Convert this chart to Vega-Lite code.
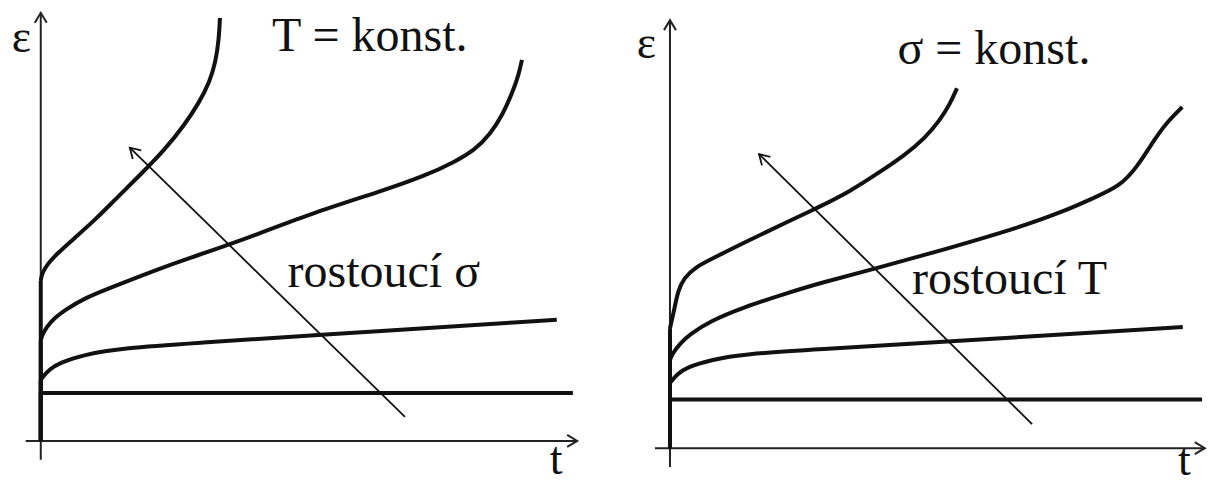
{
  "$schema": "https://vega.github.io/schema/vega-lite/v6.json",
  "padding": 0,
  "background": "white",
  "spacing": 0,
  "config": {"view": {"stroke": null}, "concat": {"spacing": 0}},
  "datasets": {
    "axes": [
      {"panel": "L", "axis": "e", "t": 0, "e": -0.44, "t2": 0, "e2": 10.0},
      {"panel": "L", "axis": "t", "t": -0.28, "e": 0, "t2": 10.0, "e2": 0},
      {"panel": "R", "axis": "e", "t": 0, "e": -0.44, "t2": 0, "e2": 10.0},
      {"panel": "R", "axis": "t", "t": -0.28, "e": 0, "t2": 9.97, "e2": 0}
    ],
    "heads": [
      {"panel": "L", "dir": "up", "t": 0, "e": 10.0},
      {"panel": "L", "dir": "right", "t": 10.0, "e": 0},
      {"panel": "L", "dir": "diag", "t": 1.66, "e": 6.85},
      {"panel": "R", "dir": "up", "t": 0, "e": 10.0},
      {"panel": "R", "dir": "right", "t": 9.97, "e": 0},
      {"panel": "R", "dir": "diag", "t": 1.66, "e": 6.87}
    ],
    "trend": [
      {"panel": "L", "t": 6.79, "e": 0.56, "t2": 1.66, "e2": 6.85},
      {"panel": "R", "t": 6.75, "e": 0.56, "t2": 1.66, "e2": 6.87}
    ],
    "labels": [
      {"panel": "L", "text": "T = konst.", "t": 4.31, "e": 9.11},
      {"panel": "L", "text": "rostoucí σ", "t": 4.6, "e": 3.6},
      {"panel": "R", "text": "σ = konst.", "t": 4.24, "e": 8.97},
      {"panel": "R", "text": "rostoucí T", "t": 4.51, "e": 3.6}
    ],
    "symbols": [
      {"panel": "L", "text": "ε", "t": -0.54, "e": 9.09},
      {"panel": "L", "text": "t", "t": 9.49, "e": -0.78},
      {"panel": "R", "text": "ε", "t": -0.62, "e": 9.11},
      {"panel": "R", "text": "t", "t": 9.47, "e": -0.62}
    ],
    "curves": [
      {"panel": "L", "curve": 1, "i": 0, "t": 0, "e": 3.74},
      {"panel": "L", "curve": 1, "i": 1, "t": 0.02, "e": 3.9},
      {"panel": "L", "curve": 1, "i": 2, "t": 0.11, "e": 4.11},
      {"panel": "L", "curve": 1, "i": 3, "t": 0.3, "e": 4.37},
      {"panel": "L", "curve": 1, "i": 4, "t": 0.63, "e": 4.74},
      {"panel": "L", "curve": 1, "i": 5, "t": 1.01, "e": 5.16},
      {"panel": "L", "curve": 1, "i": 6, "t": 1.38, "e": 5.63},
      {"panel": "L", "curve": 1, "i": 7, "t": 1.85, "e": 6.21},
      {"panel": "L", "curve": 1, "i": 8, "t": 2.31, "e": 6.8},
      {"panel": "L", "curve": 1, "i": 9, "t": 2.68, "e": 7.38},
      {"panel": "L", "curve": 1, "i": 10, "t": 2.96, "e": 7.92},
      {"panel": "L", "curve": 1, "i": 11, "t": 3.15, "e": 8.39},
      {"panel": "L", "curve": 1, "i": 12, "t": 3.26, "e": 8.86},
      {"panel": "L", "curve": 1, "i": 13, "t": 3.32, "e": 9.37},
      {"panel": "L", "curve": 1, "i": 14, "t": 3.34, "e": 9.88},

      {"panel": "L", "curve": 2, "i": 0, "t": 0, "e": 2.36},
      {"panel": "L", "curve": 2, "i": 1, "t": 0.04, "e": 2.52},
      {"panel": "L", "curve": 2, "i": 2, "t": 0.17, "e": 2.78},
      {"panel": "L", "curve": 2, "i": 3, "t": 0.45, "e": 3.06},
      {"panel": "L", "curve": 2, "i": 4, "t": 0.82, "e": 3.34},
      {"panel": "L", "curve": 2, "i": 5, "t": 1.34, "e": 3.6},
      {"panel": "L", "curve": 2, "i": 6, "t": 2.16, "e": 4.0},
      {"panel": "L", "curve": 2, "i": 7, "t": 2.78, "e": 4.28},
      {"panel": "L", "curve": 2, "i": 8, "t": 3.52, "e": 4.58},
      {"panel": "L", "curve": 2, "i": 9, "t": 5.07, "e": 5.33},
      {"panel": "L", "curve": 2, "i": 10, "t": 6.32, "e": 5.82},
      {"panel": "L", "curve": 2, "i": 11, "t": 7.16, "e": 6.19},
      {"panel": "L", "curve": 2, "i": 12, "t": 7.72, "e": 6.52},
      {"panel": "L", "curve": 2, "i": 13, "t": 8.09, "e": 6.8},
      {"panel": "L", "curve": 2, "i": 14, "t": 8.37, "e": 7.15},
      {"panel": "L", "curve": 2, "i": 15, "t": 8.61, "e": 7.62},
      {"panel": "L", "curve": 2, "i": 16, "t": 8.79, "e": 8.13},
      {"panel": "L", "curve": 2, "i": 17, "t": 8.91, "e": 8.55},
      {"panel": "L", "curve": 2, "i": 18, "t": 8.97, "e": 8.9},

      {"panel": "L", "curve": 3, "i": 0, "t": 0, "e": 1.43},
      {"panel": "L", "curve": 3, "i": 1, "t": 0.04, "e": 1.5},
      {"panel": "L", "curve": 3, "i": 2, "t": 0.17, "e": 1.68},
      {"panel": "L", "curve": 3, "i": 3, "t": 0.35, "e": 1.82},
      {"panel": "L", "curve": 3, "i": 4, "t": 0.78, "e": 2.01},
      {"panel": "L", "curve": 3, "i": 5, "t": 1.53, "e": 2.17},
      {"panel": "L", "curve": 3, "i": 6, "t": 2.96, "e": 2.29},
      {"panel": "L", "curve": 3, "i": 7, "t": 4.83, "e": 2.45},
      {"panel": "L", "curve": 3, "i": 8, "t": 9.62, "e": 2.83},

      {"panel": "L", "curve": 4, "i": 0, "t": 0, "e": 1.12},
      {"panel": "L", "curve": 4, "i": 1, "t": 9.92, "e": 1.12},

      {"panel": "R", "curve": 1, "i": 0, "t": 0, "e": 2.8},
      {"panel": "R", "curve": 1, "i": 1, "t": 0.07, "e": 3.18},
      {"panel": "R", "curve": 1, "i": 2, "t": 0.15, "e": 3.69},
      {"panel": "R", "curve": 1, "i": 3, "t": 0.26, "e": 3.97},
      {"panel": "R", "curve": 1, "i": 4, "t": 0.47, "e": 4.23},
      {"panel": "R", "curve": 1, "i": 5, "t": 0.84, "e": 4.46},
      {"panel": "R", "curve": 1, "i": 6, "t": 1.36, "e": 4.79},
      {"panel": "R", "curve": 1, "i": 7, "t": 2.18, "e": 5.28},
      {"panel": "R", "curve": 1, "i": 8, "t": 2.74, "e": 5.61},
      {"panel": "R", "curve": 1, "i": 9, "t": 3.36, "e": 6.0},
      {"panel": "R", "curve": 1, "i": 10, "t": 3.91, "e": 6.45},
      {"panel": "R", "curve": 1, "i": 11, "t": 4.38, "e": 6.85},
      {"panel": "R", "curve": 1, "i": 12, "t": 4.75, "e": 7.24},
      {"panel": "R", "curve": 1, "i": 13, "t": 5.03, "e": 7.66},
      {"panel": "R", "curve": 1, "i": 14, "t": 5.22, "e": 8.04},
      {"panel": "R", "curve": 1, "i": 15, "t": 5.35, "e": 8.41},

      {"panel": "R", "curve": 2, "i": 0, "t": 0, "e": 2.06},
      {"panel": "R", "curve": 2, "i": 1, "t": 0.04, "e": 2.2},
      {"panel": "R", "curve": 2, "i": 2, "t": 0.19, "e": 2.45},
      {"panel": "R", "curve": 2, "i": 3, "t": 0.37, "e": 2.66},
      {"panel": "R", "curve": 2, "i": 4, "t": 0.75, "e": 2.97},
      {"panel": "R", "curve": 2, "i": 5, "t": 1.36, "e": 3.29},
      {"panel": "R", "curve": 2, "i": 6, "t": 2.18, "e": 3.62},
      {"panel": "R", "curve": 2, "i": 7, "t": 2.8, "e": 3.86},
      {"panel": "R", "curve": 2, "i": 8, "t": 3.73, "e": 4.16},
      {"panel": "R", "curve": 2, "i": 9, "t": 5.28, "e": 4.7},
      {"panel": "R", "curve": 2, "i": 10, "t": 6.52, "e": 5.16},
      {"panel": "R", "curve": 2, "i": 11, "t": 7.36, "e": 5.54},
      {"panel": "R", "curve": 2, "i": 12, "t": 7.92, "e": 5.86},
      {"panel": "R", "curve": 2, "i": 13, "t": 8.39, "e": 6.12},
      {"panel": "R", "curve": 2, "i": 14, "t": 8.72, "e": 6.59},
      {"panel": "R", "curve": 2, "i": 15, "t": 8.99, "e": 7.13},
      {"panel": "R", "curve": 2, "i": 16, "t": 9.23, "e": 7.57},
      {"panel": "R", "curve": 2, "i": 17, "t": 9.55, "e": 7.97},

      {"panel": "R", "curve": 3, "i": 0, "t": 0, "e": 1.52},
      {"panel": "R", "curve": 3, "i": 1, "t": 0.13, "e": 1.73},
      {"panel": "R", "curve": 3, "i": 2, "t": 0.32, "e": 1.89},
      {"panel": "R", "curve": 3, "i": 3, "t": 0.75, "e": 2.06},
      {"panel": "R", "curve": 3, "i": 4, "t": 1.36, "e": 2.2},
      {"panel": "R", "curve": 3, "i": 5, "t": 2.8, "e": 2.31},
      {"panel": "R", "curve": 3, "i": 6, "t": 4.66, "e": 2.45},
      {"panel": "R", "curve": 3, "i": 7, "t": 9.56, "e": 2.83},

      {"panel": "R", "curve": 4, "i": 0, "t": 0, "e": 1.14},
      {"panel": "R", "curve": 4, "i": 1, "t": 9.92, "e": 1.14}
    ]
  },
  "hconcat": [
    {
      "width": 604,
      "height": 485,
      "encoding": {
        "x": {"field": "t", "type": "quantitative", "scale": {"domain": [-0.76, 10.5], "nice": false, "zero": false}, "axis": null},
        "y": {"field": "e", "type": "quantitative", "scale": {"domain": [-1.03, 10.3], "nice": false, "zero": false}, "axis": null}
      },
      "layer": [
        {"data": {"name": "axes"}, "transform": [{"filter": "datum.panel === 'L'"}],
         "mark": {"type": "rule", "stroke": "#222", "strokeWidth": 2},
         "encoding": {"x2": {"field": "t2"}, "y2": {"field": "e2"}}},
        {"data": {"name": "curves"}, "transform": [{"filter": "datum.panel === 'L' && datum.i === 0"}],
         "mark": {"type": "rule", "stroke": "#111", "strokeWidth": 4},
         "encoding": {"y2": {"datum": 0}}},
        {"data": {"name": "curves"}, "transform": [{"filter": "datum.panel === 'L'"}],
         "mark": {"type": "line", "stroke": "#111", "strokeWidth": 4, "interpolate": "basis"},
         "encoding": {"detail": {"field": "curve", "type": "nominal"}, "order": {"field": "i", "type": "quantitative"}}},
        {"data": {"name": "trend"}, "transform": [{"filter": "datum.panel === 'L'"}],
         "mark": {"type": "rule", "stroke": "#111", "strokeWidth": 1.8},
         "encoding": {"x2": {"field": "t2"}, "y2": {"field": "e2"}}},
        {"data": {"name": "heads"}, "transform": [{"filter": "datum.panel === 'L' && datum.dir === 'up'"}],
         "mark": {"type": "point", "shape": "M-0.6,1L0,0L0.6,1", "size": 400, "filled": false, "stroke": "#222", "strokeWidth": 2, "opacity": 1, "angle": 0}},
        {"data": {"name": "heads"}, "transform": [{"filter": "datum.panel === 'L' && datum.dir === 'right'"}],
         "mark": {"type": "point", "shape": "M-0.6,1L0,0L0.6,1", "size": 400, "filled": false, "stroke": "#222", "strokeWidth": 2, "opacity": 1, "angle": 90}},
        {"data": {"name": "heads"}, "transform": [{"filter": "datum.panel === 'L' && datum.dir === 'diag'"}],
         "mark": {"type": "point", "shape": "M-0.6,1L0,0L0.6,1", "size": 400, "filled": false, "stroke": "#111", "strokeWidth": 1.8, "opacity": 1, "angle": 314.4}},
        {"data": {"name": "labels"}, "transform": [{"filter": "datum.panel === 'L'"}],
         "mark": {"type": "text", "font": "Liberation Serif, Times New Roman, DejaVu Serif, serif", "fontSize": 48, "align": "left", "baseline": "alphabetic", "color": "#111"},
         "encoding": {"text": {"field": "text"}}},
        {"data": {"name": "symbols"}, "transform": [{"filter": "datum.panel === 'L'"}],
         "mark": {"type": "text", "font": "Liberation Serif, Times New Roman, DejaVu Serif, serif", "fontSize": 46, "align": "left", "baseline": "alphabetic", "color": "#111"},
         "encoding": {"text": {"field": "text"}}}
      ]
    },
    {
      "width": 604,
      "height": 485,
      "encoding": {
        "x": {"field": "t", "type": "quantitative", "scale": {"domain": [-1.23, 10.03], "nice": false, "zero": false}, "axis": null},
        "y": {"field": "e", "type": "quantitative", "scale": {"domain": [-0.86, 10.47], "nice": false, "zero": false}, "axis": null}
      },
      "layer": [
        {"data": {"name": "axes"}, "transform": [{"filter": "datum.panel === 'R'"}],
         "mark": {"type": "rule", "stroke": "#222", "strokeWidth": 2},
         "encoding": {"x2": {"field": "t2"}, "y2": {"field": "e2"}}},
        {"data": {"name": "curves"}, "transform": [{"filter": "datum.panel === 'R' && datum.i === 0"}],
         "mark": {"type": "rule", "stroke": "#111", "strokeWidth": 4},
         "encoding": {"y2": {"datum": 0}}},
        {"data": {"name": "curves"}, "transform": [{"filter": "datum.panel === 'R'"}],
         "mark": {"type": "line", "stroke": "#111", "strokeWidth": 4, "interpolate": "basis"},
         "encoding": {"detail": {"field": "curve", "type": "nominal"}, "order": {"field": "i", "type": "quantitative"}}},
        {"data": {"name": "trend"}, "transform": [{"filter": "datum.panel === 'R'"}],
         "mark": {"type": "rule", "stroke": "#111", "strokeWidth": 1.8},
         "encoding": {"x2": {"field": "t2"}, "y2": {"field": "e2"}}},
        {"data": {"name": "heads"}, "transform": [{"filter": "datum.panel === 'R' && datum.dir === 'up'"}],
         "mark": {"type": "point", "shape": "M-0.6,1L0,0L0.6,1", "size": 400, "filled": false, "stroke": "#222", "strokeWidth": 2, "opacity": 1, "angle": 0}},
        {"data": {"name": "heads"}, "transform": [{"filter": "datum.panel === 'R' && datum.dir === 'right'"}],
         "mark": {"type": "point", "shape": "M-0.6,1L0,0L0.6,1", "size": 400, "filled": false, "stroke": "#222", "strokeWidth": 2, "opacity": 1, "angle": 90}},
        {"data": {"name": "heads"}, "transform": [{"filter": "datum.panel === 'R' && datum.dir === 'diag'"}],
         "mark": {"type": "point", "shape": "M-0.6,1L0,0L0.6,1", "size": 400, "filled": false, "stroke": "#111", "strokeWidth": 1.8, "opacity": 1, "angle": 314.4}},
        {"data": {"name": "labels"}, "transform": [{"filter": "datum.panel === 'R'"}],
         "mark": {"type": "text", "font": "Liberation Serif, Times New Roman, DejaVu Serif, serif", "fontSize": 48, "align": "left", "baseline": "alphabetic", "color": "#111"},
         "encoding": {"text": {"field": "text"}}},
        {"data": {"name": "symbols"}, "transform": [{"filter": "datum.panel === 'R'"}],
         "mark": {"type": "text", "font": "Liberation Serif, Times New Roman, DejaVu Serif, serif", "fontSize": 46, "align": "left", "baseline": "alphabetic", "color": "#111"},
         "encoding": {"text": {"field": "text"}}}
      ]
    }
  ]
}
